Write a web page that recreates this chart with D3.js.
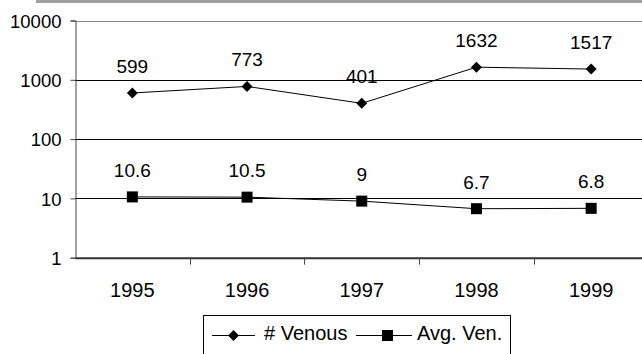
<!DOCTYPE html>
<html lang="en">
<head>
  <meta charset="UTF-8">
  <title>venous</title>
  <script src="https://d3js.org/d3.v7.min.js"></script>
  <style>
    body { margin: 0; background: #fff; }
    text { font-family: "Liberation Sans", Arial, sans-serif; font-size: 19px; fill: #000; }
    .yax text { font-size: 18.5px; }
    .xax text { font-size: 20px; }
    .legend text { font-size: 20px; }
  </style>
</head>
<body>
  <div id="chart"></div>
  <script>
    var years = ["1995", "1996", "1997", "1998", "1999"];
    var venous = [599, 773, 401, 1632, 1517];
    var avgVen = [10.6, 10.5, 9, 6.7, 6.8];
    var yTicks = [1, 10, 100, 1000, 10000];

    var width = 642, height = 354;
    var plotLeft = 75, plotTop = 20.5, plotBottom = 257.7, band = 114.7;

    var svg = d3.select("#chart").append("svg")
      .attr("width", width)
      .attr("height", height);

    var x = d3.scaleBand().domain(years).range([plotLeft, plotLeft + band * years.length]);
    var y = d3.scaleLog().domain([1, 10000]).range([plotBottom, plotTop]);
    var cx = function (d) { return x(d) + x.bandwidth() / 2; };

    // grey strip at the very top
    svg.append("rect")
      .attr("x", 36).attr("y", 0)
      .attr("width", width - 36).attr("height", 3)
      .attr("fill", "#a0a0a0");

    // gridlines
    svg.selectAll(".grid")
      .data(yTicks.slice(1))
      .enter().append("line")
      .attr("x1", plotLeft).attr("x2", width)
      .attr("y1", function (d) { return Math.round(y(d)) + 0.5; })
      .attr("y2", function (d) { return Math.round(y(d)) + 0.5; })
      .attr("stroke", function (d) { return d == 10000 ? "#888" : "#000"; })
      .attr("stroke-width", 1);

    // y axis
    var yAxis = d3.axisLeft(y).tickValues(yTicks).tickFormat(d3.format("d")).tickSize(5).tickPadding(9);
    var gy = svg.append("g").attr("class", "yax").attr("transform", "translate(" + (plotLeft + 0.5) + ",0)").call(yAxis);
    gy.select(".domain").attr("stroke", "#444");
    gy.selectAll(".tick line").attr("stroke", "#444");
    gy.selectAll(".tick text").attr("dy", "0.36em");

    // x axis
    var xAxis = d3.axisBottom(x).tickSize(0).tickPadding(25);
    var gx = svg.append("g").attr("class", "xax").attr("transform", "translate(0," + plotBottom + ")").call(xAxis);
    gx.select(".domain").attr("stroke", "#333").attr("stroke-width", 2);
    gx.selectAll(".sep")
      .data(years.slice(1))
      .enter().append("line")
      .attr("x1", function (d) { return Math.round(x(d)) + 0.5; })
      .attr("x2", function (d) { return Math.round(x(d)) + 0.5; })
      .attr("y1", 0).attr("y2", 7)
      .attr("stroke", "#444");

    var line = function (vals) {
      return d3.line()
        .x(function (d, i) { return cx(years[i]); })
        .y(function (d) { return y(d); })(vals);
    };

    // series lines
    svg.append("path").attr("d", line(venous)).attr("fill", "none").attr("stroke", "#000").attr("stroke-width", 1);
    svg.append("path").attr("d", line(avgVen)).attr("fill", "none").attr("stroke", "#000").attr("stroke-width", 1);

    var diamond = d3.symbol().type(d3.symbolSquare).size(60);

    svg.selectAll(".dia")
      .data(venous)
      .enter().append("path")
      .attr("d", diamond)
      .attr("transform", function (d, i) { return "translate(" + cx(years[i]) + "," + y(d) + ") rotate(45)"; })
      .attr("fill", "#000");

    svg.selectAll(".sq")
      .data(avgVen)
      .enter().append("rect")
      .attr("x", function (d, i) { return cx(years[i]) - 5.5; })
      .attr("y", function (d) { return y(d) - 5.5; })
      .attr("width", 11).attr("height", 11)
      .attr("fill", "#000");

    // data labels
    svg.selectAll(".lv")
      .data(venous)
      .enter().append("text")
      .attr("x", function (d, i) { return cx(years[i]); })
      .attr("y", function (d) { return y(d) - 20; })
      .attr("text-anchor", "middle")
      .text(function (d) { return d; });

    svg.selectAll(".la")
      .data(avgVen)
      .enter().append("text")
      .attr("x", function (d, i) { return cx(years[i]); })
      .attr("y", function (d) { return y(d) - 20; })
      .attr("text-anchor", "middle")
      .text(function (d) { return d; });

    // legend
    var lg = svg.append("g").attr("class", "legend");
    lg.append("rect")
      .attr("x", 203.5).attr("y", 315.5)
      .attr("width", 307).attr("height", 50)
      .attr("fill", "#fff").attr("stroke", "#000");

    lg.append("line").attr("x1", 212).attr("x2", 255).attr("y1", 335.5).attr("y2", 335.5).attr("stroke", "#000");
    lg.append("path").attr("d", diamond).attr("transform", "translate(233.5,335.5) rotate(45)").attr("fill", "#000");
    lg.append("text").attr("x", 264).attr("y", 340).text("# Venous");

    lg.append("line").attr("x1", 356).attr("x2", 412).attr("y1", 335.5).attr("y2", 335.5).attr("stroke", "#000");
    lg.append("rect").attr("x", 382).attr("y", 330).attr("width", 11).attr("height", 11).attr("fill", "#000");
    lg.append("text").attr("x", 417).attr("y", 340).text("Avg. Ven.");
  </script>
</body>
</html>
